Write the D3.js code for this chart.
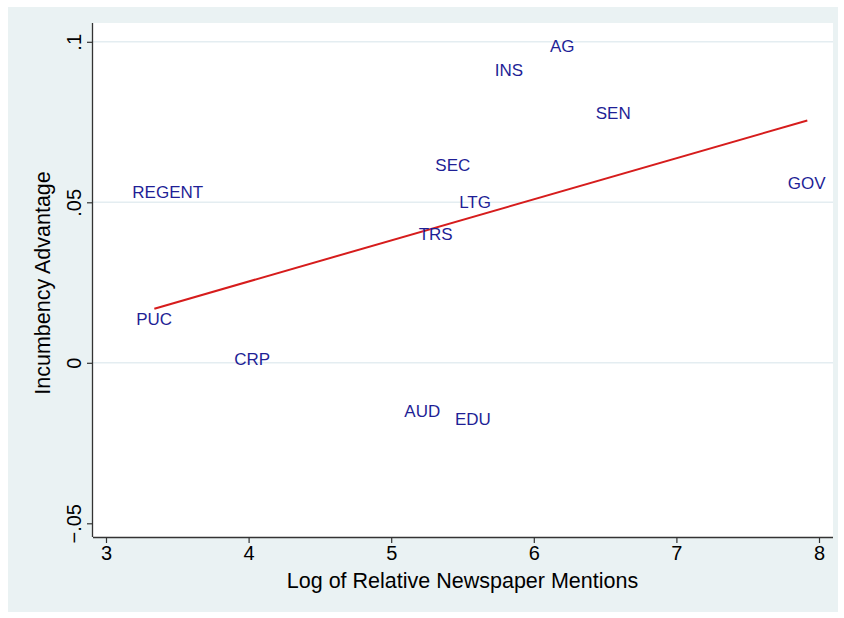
<!DOCTYPE html>
<html>
<head>
<meta charset="utf-8">
<script src="https://cdn.jsdelivr.net/npm/d3@7"></script>
<style>
  html, body { margin: 0; padding: 0; background: #ffffff; }
  svg { display: block; font-family: "Liberation Sans", Arial, sans-serif; }
</style>
</head>
<body>
<svg id="chart" width="844" height="618"></svg>
<script>
// ---- data ----
const offices = ["AG", "INS", "SEN", "SEC", "REGENT", "LTG", "GOV", "TRS", "PUC", "CRP", "AUD", "EDU"];
const logMentions = [6.200, 5.826, 6.557, 5.432, 3.433, 5.588, 7.914, 5.312, 3.338, 4.025, 5.218, 5.573];
const incAdvantage = [0.0987, 0.0914, 0.0779, 0.0618, 0.0534, 0.0501, 0.0562, 0.0403, 0.0136, 0.0011, -0.0150, -0.0175];
const fitX = [3.339, 7.918];
const fitY = [0.01685, 0.0755];
const xTicks = [3, 4, 5, 6, 7, 8];
const yTicks = [-0.05, 0, 0.05, 0.1];
const yTickLabels = ["\u2212.05", "0", ".05", ".1"];
const gridTicks = [0, 0.05, 0.1];
const xTitle = "Log of Relative Newspaper Mentions";
const yTitle = "Incumbency Advantage";

// ---- layout ----
const svg = d3.select("#chart");
const plot = { left: 93, right: 833, top: 23, bottom: 537 };
const x = d3.scaleLinear().domain([3, 8]).range([106, 819]);
const y = d3.scaleLinear().domain([-0.05, 0.1]).range([523.3, 41.8]);

// outer background
svg.append("rect").attr("x", 8).attr("y", 7).attr("width", 830).attr("height", 605)
  .attr("fill", "#eaf2f3");
// plot region
svg.append("rect").attr("x", plot.left).attr("y", plot.top)
  .attr("width", plot.right - plot.left).attr("height", plot.bottom - plot.top)
  .attr("fill", "#ffffff");

// grid lines
svg.append("g").selectAll("line").data(gridTicks).join("line")
  .attr("x1", plot.left).attr("x2", plot.right)
  .attr("y1", d => y(d)).attr("y2", d => y(d))
  .attr("stroke", "#e4edf1").attr("stroke-width", 1.5);

// x axis
const xAxis = d3.axisBottom(x).tickValues(xTicks).tickFormat(d3.format("d")).tickSize(6).tickPadding(3);
const gx = svg.append("g").attr("transform", `translate(0,${plot.bottom})`).call(xAxis);
gx.select(".domain").attr("d", `M${plot.left},0.5H${plot.right}`).attr("stroke", "#333").attr("stroke-width", 1.3);
gx.selectAll(".tick line").attr("stroke", "#333").attr("stroke-width", 1.2);
gx.selectAll(".tick text").attr("fill", "#000").attr("font-size", 20)
  .attr("font-family", "Liberation Sans, Arial, sans-serif");

// y axis
const yAxis = d3.axisLeft(y).tickValues(yTicks).tickFormat((d, i) => yTickLabels[i]).tickSize(6).tickPadding(3);
const gy = svg.append("g").attr("transform", `translate(${plot.left},0)`).call(yAxis);
gy.select(".domain").attr("d", `M-0.5,${plot.top}V${plot.bottom}`).attr("stroke", "#333").attr("stroke-width", 1.3);
gy.selectAll(".tick line").attr("stroke", "#333").attr("stroke-width", 1.2);
gy.selectAll(".tick text")
  .attr("fill", "#000").attr("font-size", 20)
  .attr("font-family", "Liberation Sans, Arial, sans-serif")
  .attr("x", null).attr("dy", null)
  .attr("text-anchor", "middle")
  .attr("transform", "translate(-19,0) rotate(-90)")
  .attr("dy", "0.36em");

// axis titles
svg.append("text").attr("x", (x(3) + x(8)) / 2).attr("y", 588)
  .attr("text-anchor", "middle").attr("font-size", 21.5).attr("fill", "#000").text(xTitle);
svg.append("text").attr("transform", `translate(50,${(plot.top + plot.bottom) / 2 + 3}) rotate(-90)`)
  .attr("text-anchor", "middle").attr("font-size", 21.5).attr("fill", "#000").text(yTitle);

// fit line
const line = d3.line().x(d => x(d[0])).y(d => y(d[1]));
svg.append("path").datum(d3.zip(fitX, fitY)).attr("d", line)
  .attr("fill", "none").attr("stroke", "#d61c1c").attr("stroke-width", 2);

// marker labels
svg.append("g").selectAll("text").data(d3.range(offices.length)).join("text")
  .attr("x", i => x(logMentions[i])).attr("y", i => y(incAdvantage[i]))
  .attr("dy", "0.36em").attr("text-anchor", "middle")
  .attr("font-size", 17).attr("fill", "#1f1f96")
  .text(i => offices[i]);
</script>
</body>
</html>
